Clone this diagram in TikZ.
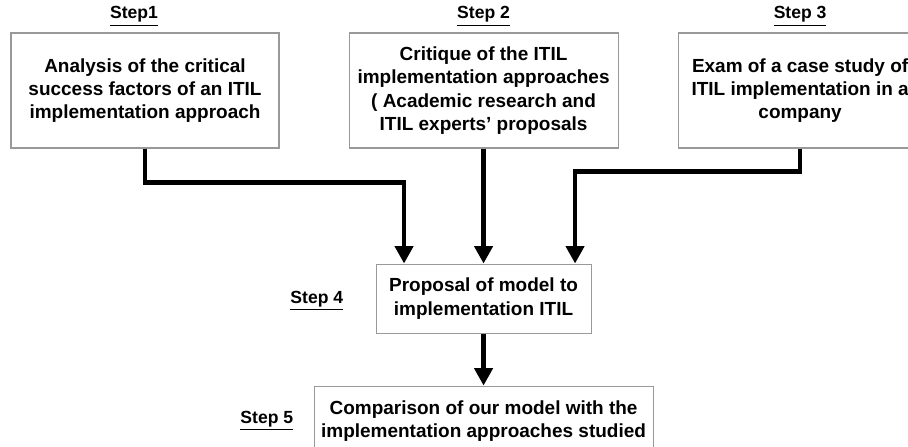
\documentclass[tikz,border=0pt]{standalone}
\usepackage{fontspec}
\setmainfont{Liberation Sans}
\usetikzlibrary{positioning, arrows.meta}
\tikzset{
    taskbox/.style={
        draw=black!40,
        line width=0.6pt,
        align=center,
        inner sep=2pt,
        font=\fontsize{10.8}{13.25}\selectfont\bfseries
    },
    steplabel/.style={
        inner sep=0pt,
        font=\fontsize{10}{12}\selectfont\bfseries
    },
    flow/.style={
        line width=2.5pt,
        -{Triangle[length=0.35cm, width=0.36cm]}
    }
}

\begin{document}
\begin{tikzpicture}
            \useasboundingbox (0,0) rectangle (18.16,-8.92);
            \clip (0,0) rectangle (18.16,-8.92);

            % Boxes
            \node (analysis) [
                taskbox,
                minimum width=5.36cm,
                minimum height=2.3cm
            ] at (2.9,-1.81) {Analysis of the critical\\success factors of an ITIL\\implementation approach};
            \node (critique) [
                taskbox,
                minimum width=5.38cm,
                minimum height=2.3cm,
                right=1.38cm of analysis
            ] {Critique of the ITIL\\implementation approaches\\( Academic research and\\ITIL experts' proposals};
            \node (exam) [
                taskbox,
                minimum width=4.88cm,
                minimum height=2.3cm,
                right=1.18cm of critique
            ] {Exam of a case study of\\ITIL implementation in a\\company};
            \node (proposal) [
                taskbox,
                minimum width=4.3cm,
                minimum height=1.38cm,
                below=2.3cm of critique
            ] {Proposal of model to\\implementation ITIL};
            \node (compare) [
                taskbox,
                minimum width=6.78cm,
                minimum height=1.4cm,
                below=1.04cm of proposal
            ] {Comparison of our model with the\\implementation approaches studied};

            % Step labels
            \node (step1) [steplabel, above=0.12cm of analysis, xshift=-0.22cm] {\underline{Step1}};
            \node (step2) [steplabel, above=0.12cm of critique] {\underline{Step 2}};
            \node (step3) [steplabel, above=0.12cm of exam] {\underline{Step 3}};
            \node (step4) [steplabel, left=0.64cm of proposal, yshift=-0.05cm] {\underline{Step 4}};
            \node (step5) [steplabel, left=0.4cm of compare] {\underline{Step 5}};

            % Arrows
            \draw [flow] (analysis.south) -- ++(0,-0.68) -| ([xshift=-1.59cm]proposal.north);
            \draw [flow] (critique) -- (proposal);
            \draw [flow] (exam.south) -- ++(0,-0.46) -| ([xshift=1.83cm]proposal.north);
            \draw [flow] (proposal) -- (compare);
\end{tikzpicture}
\end{document}
